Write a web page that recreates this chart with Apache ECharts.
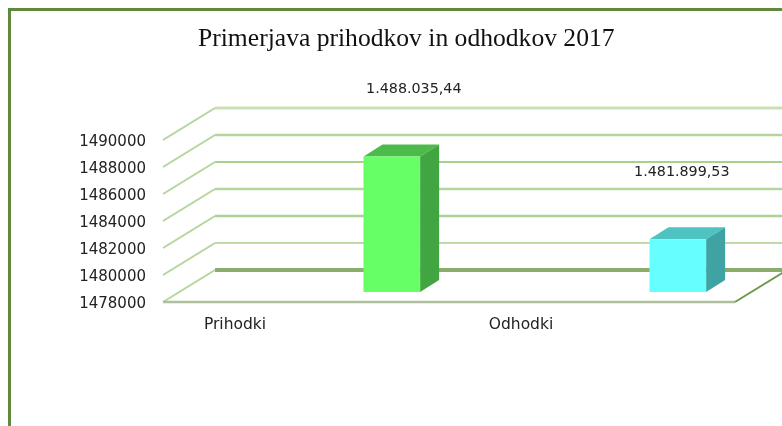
<!DOCTYPE html>
<html><head><meta charset="utf-8">
<style>html,body{margin:0;padding:0;background:#fff}#c{width:782px;height:426px}</style>
<script src="https://cdn.jsdelivr.net/npm/echarts@6/dist/echarts.min.js"></script>
</head><body><div id="c"></div>
<script>
const titleText = 'Primerjava prihodkov in odhodkov 2017';
const categories = ['Prihodki', 'Odhodki'];
const values = [1488035.44, 1481899.53];
const valueLabels = ['1.488.035,44', '1.481.899,53'];
const yTicks = [1478000, 1480000, 1482000, 1484000, 1486000, 1488000, 1490000];

// style tables, by tick index (bottom to top)
const wallStyles = [
  {w: 4, c: '#8aad6d'}, {w: 1.6, c: '#a9d18e'}, {w: 2.6, c: '#aed295'}, {w: 2.6, c: '#b4d69c'},
  {w: 2, c: '#a9d18e'}, {w: 2.6, c: '#b4d69c'}, {w: 3, c: '#c7e0b4'}
];
const barStyles = [
  {front: '#66ff66', top: '#4cbb4c', side: '#41a541', labelDx: 22},
  {front: '#66ffff', top: '#4fc2c2', side: '#40a3a3', labelDx: 4}
];
const WALL_DX = 52, WALL_DY = -32;   // floor depth
const BAR_DX = 19, BAR_DY = -12;     // bar depth
const BAR_SHIFT_Y = -10;             // bar sits part way into the floor
const BAR_SHIFT_X = 0.3;             // share of a category band
const BAR_W = 0.198;                 // share of a category band

const chart = echarts.init(document.getElementById('c'), null, {renderer: 'canvas'});
const line = (pts, w, c) => ({type: 'polyline', shape: {points: pts}, style: {stroke: c, lineWidth: w, fill: null}, silent: true});
const poly = (pts, c) => ({type: 'polygon', shape: {points: pts}, style: {fill: c}, silent: true});

chart.setOption({
  animation: false,
  backgroundColor: '#fff',
  title: {text: titleText, left: 193, top: 21, textStyle: {fontFamily: 'Liberation Serif', fontWeight: 'normal', fontSize: 25.6, color: '#111'}},
  grid: {left: 163, right: 47, top: 140, bottom: 124},
  xAxis: {type: 'category', data: categories, axisLine: {show: false}, axisTick: {show: false}, splitLine: {show: false},
    axisLabel: {fontFamily: 'DejaVu Sans', fontSize: 15.5, color: '#222', margin: 15, padding: [0, 142, 0, 0]}},
  yAxis: {type: 'value', min: yTicks[0], max: yTicks[yTicks.length - 1], interval: 2000, axisLine: {show: false}, axisTick: {show: false}, splitLine: {show: false},
    axisLabel: {fontFamily: 'DejaVu Sans', fontSize: 15, color: '#222', margin: 17, verticalAlign: 'top', lineHeight: 4, formatter: v => String(v)}},
  graphic: [{type: 'rect', shape: {x: 9.5, y: 9.5, width: 900, height: 600}, style: {fill: null, stroke: '#5f8a3e', lineWidth: 3}, silent: true, z: -1}],
  series: [
    {type: 'custom', data: yTicks.map(v => [0, v]), clip: false, silent: true, z: 2,
      renderItem(params, api) {
        const cs = params.coordSys, y = api.coord([0, api.value(1)])[1], i = params.dataIndex, s = wallStyles[i];
        const L = cs.x, R = cs.x + cs.width;
        const children = [
          line([[L, y], [L + WALL_DX, y + WALL_DY]], 2, '#b4d69c'),
          line([[L + WALL_DX, y + WALL_DY], [R + WALL_DX, y + WALL_DY]], s.w, s.c)
        ];
        if (i === 0) {
          children.push(line([[L, y], [R, y]], 2.5, '#adc09b'));
          children.push(line([[R, y], [R + WALL_DX, y + WALL_DY]], 2, '#6a9a4a'));
        }
        return {type: 'group', children};
      }},
    {type: 'custom', data: values.map((v, i) => [i, v]), clip: false, silent: true, z: 3,
      renderItem(params, api) {
        const i = params.dataIndex, s = barStyles[i], band = api.size([1, 0])[0];
        const c = api.coord([api.value(0), api.value(1)]);
        const base = api.coord([api.value(0), yTicks[0]]);
        const xl = c[0] + band * (BAR_SHIFT_X - BAR_W / 2), xr = xl + band * BAR_W;
        const yt = c[1] + BAR_SHIFT_Y, yb = base[1] + BAR_SHIFT_Y;
        return {type: 'group', children: [
          poly([[xl, yt], [xl + BAR_DX, yt + BAR_DY], [xr + BAR_DX, yt + BAR_DY], [xr, yt]], s.top),
          poly([[xr, yt], [xr + BAR_DX, yt + BAR_DY], [xr + BAR_DX, yb + BAR_DY], [xr, yb]], s.side),
          poly([[xl, yt], [xr, yt], [xr, yb], [xl, yb]], s.front),
          {type: 'text', silent: true, style: {text: valueLabels[i], x: (xl + xr) / 2 + s.labelDx, y: yt + BAR_DY - 55,
            align: 'center', verticalAlign: 'middle', fontFamily: 'DejaVu Sans', fontSize: 14.3, fill: '#222'}}
        ]};
      }}
  ]
});
</script></body></html>
